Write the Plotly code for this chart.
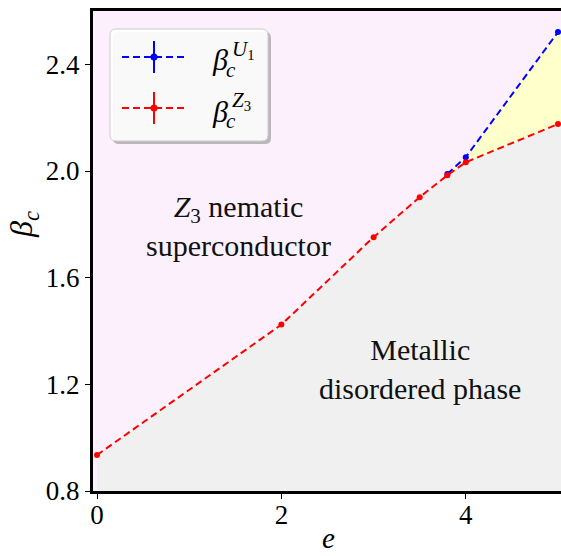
import plotly.graph_objects as go

# Critical inverse temperatures versus coupling e
e_z3 = [0.0, 2.0, 3.0, 3.5, 3.8, 4.0, 5.0]
beta_z3 = [0.935, 1.424, 1.752, 1.902, 1.984, 2.033, 2.176]

e_u1 = [3.8, 4.0, 5.0]
beta_u1 = [1.989, 2.052, 2.521]

x_ticks = [0, 2, 4]
y_ticks = [0.8, 1.2, 1.6, 2.0, 2.4]

PINK = "#fcf0fc"
GRAY = "#f0f0f0"
YELLOW = "#ffffcc"
RED = "#ff0000"
BLUE = "#0000ff"
FONT = "Liberation Serif"

W, H = 561, 556
ML, MR, MT, MB = 93, 0, 11, 65
PW, PH = W - ML - MR, H - MT - MB

# axis limits: x=0 sits 4 px right of the frame, x=5 about 3 px left of the edge
PX_PER_E = (558 - 97) / 5.0
X_MIN = -(97 - ML) / PX_PER_E
X_MAX = 5.0 + (W - MR - 558) / PX_PER_E


def fx(x):
    """figure pixel column -> paper x"""
    return (x - ML) / PW


def fy(y):
    """figure pixel row -> paper y"""
    return (H - MB - y) / PH


fig = go.Figure()

# region fills carried flat out to the right frame
fill_x = e_z3 + [X_MAX]
fill_y = beta_z3 + [beta_z3[-1]]
fig.add_trace(go.Scatter(x=fill_x, y=fill_y, mode="lines", fill="tozeroy",
                         fillcolor=GRAY, line=dict(width=0), hoverinfo="skip",
                         showlegend=False))

lower = [b for e, b in zip(e_z3, beta_z3) if e in e_u1]
fig.add_trace(go.Scatter(x=e_u1 + [X_MAX], y=lower + [lower[-1]], mode="lines",
                         line=dict(width=0), hoverinfo="skip", showlegend=False))
fig.add_trace(go.Scatter(x=e_u1 + [X_MAX], y=beta_u1 + [beta_u1[-1]], mode="lines",
                         fill="tonexty", fillcolor=YELLOW, line=dict(width=0),
                         hoverinfo="skip", showlegend=False))

# transition lines
fig.add_trace(go.Scatter(x=e_u1, y=beta_u1, mode="lines+markers",
                         line=dict(color=BLUE, width=2, dash="7px,4px"),
                         marker=dict(color=BLUE, size=6), cliponaxis=False,
                         showlegend=False))
fig.add_trace(go.Scatter(x=e_z3, y=beta_z3, mode="lines+markers",
                         line=dict(color=RED, width=2, dash="7px,4px"),
                         marker=dict(color=RED, size=6), cliponaxis=False,
                         showlegend=False))

shapes = []
annotations = []


def rounded(x0, y0, x1, y1, r=6):
    ax0, ax1 = fx(x0), fx(x1)
    ay0, ay1 = fy(y0), fy(y1)
    rx, ry = r / PW, r / PH
    return (f"M {ax0+rx},{ay0} L {ax1-rx},{ay0} Q {ax1},{ay0} {ax1},{ay0-ry} "
            f"L {ax1},{ay1+ry} Q {ax1},{ay1} {ax1-rx},{ay1} "
            f"L {ax0+rx},{ay1} Q {ax0},{ay1} {ax0},{ay1+ry} "
            f"L {ax0},{ay0-ry} Q {ax0},{ay0} {ax0+rx},{ay0} Z")


# legend frame with a soft shadow
shapes.append(dict(type="path", xref="paper", yref="paper",
                   path=rounded(113, 32, 271, 144), fillcolor="rgba(0,0,0,0.25)",
                   line=dict(width=0), layer="above"))
shapes.append(dict(type="path", xref="paper", yref="paper",
                   path=rounded(110, 29, 268, 141), fillcolor="rgba(255,255,255,0.92)",
                   line=dict(color="#cccccc", width=1), layer="above"))

legend_rows = [
    (57, BLUE, "<i>U</i><sub>1</sub>"),
    (108, RED, "<i>Z</i><sub>3</sub>"),
]
for yy, col, sup in legend_rows:
    shapes.append(dict(type="line", xref="paper", yref="paper",
                       x0=fx(122), x1=fx(188), y0=fy(yy), y1=fy(yy),
                       line=dict(color=col, width=2, dash="7px,4px"), layer="above"))
    shapes.append(dict(type="line", xref="paper", yref="paper",
                       x0=fx(154), x1=fx(154), y0=fy(yy - 16), y1=fy(yy + 16),
                       line=dict(color=col, width=2), layer="above"))
    shapes.append(dict(type="circle", xref="paper", yref="paper",
                       x0=fx(150.5), x1=fx(157.5), y0=fy(yy - 3.5), y1=fy(yy + 3.5),
                       fillcolor=col, line=dict(color=col, width=0), layer="above"))
    annotations.append(dict(xref="paper", yref="paper", x=fx(210), y=fy(yy + 3),
                            xanchor="left", yanchor="middle", showarrow=False,
                            text="<i>β</i>", font=dict(family=FONT, size=30, color="black")))
    annotations.append(dict(xref="paper", yref="paper", x=fx(224), y=fy(yy + 13),
                            xanchor="left", yanchor="middle", showarrow=False,
                            text="<i>c</i>", font=dict(family=FONT, size=21, color="black")))
    annotations.append(dict(xref="paper", yref="paper", x=fx(230), y=fy(yy - 7),
                            xanchor="left", yanchor="middle", showarrow=False,
                            text=sup, font=dict(family=FONT, size=21, color="black")))

# phase labels
annotations.append(dict(xref="paper", yref="paper", x=fx(238), y=fy(226),
                        xanchor="center", yanchor="middle", showarrow=False,
                        text="<i>Z</i><sub>3</sub> nematic<br>superconductor",
                        font=dict(family=FONT, size=30, color="#111111")))
annotations.append(dict(xref="paper", yref="paper", x=fx(420), y=fy(369),
                        xanchor="center", yanchor="middle", showarrow=False,
                        text="Metallic<br>disordered phase",
                        font=dict(family=FONT, size=30, color="#111111")))

# axis titles
annotations.append(dict(xref="paper", yref="paper", x=fx(328), y=fy(556),
                        xanchor="center", yanchor="bottom", showarrow=False,
                        text="<i>e</i>", font=dict(family=FONT, size=29, color="black")))
annotations.append(dict(xref="paper", yref="paper", x=fx(23), y=fy(225),
                        xanchor="center", yanchor="middle", showarrow=False,
                        textangle=-90,
                        text="<i>β</i><sub><i>c</i></sub>",
                        font=dict(family=FONT, size=32, color="black")))

axis_common = dict(showgrid=False, zeroline=False, showline=True, linecolor="black",
                   linewidth=3, ticks="outside", ticklen=5, tickwidth=1.2,
                   tickcolor="black", tickfont=dict(family=FONT, size=27, color="black"))

fig.update_layout(
    width=W, height=H,
    margin=dict(l=ML, r=MR, t=MT, b=MB, pad=0),
    paper_bgcolor="white", plot_bgcolor=PINK,
    showlegend=False,
    font=dict(family=FONT),
    xaxis=dict(range=[X_MIN, X_MAX], tickvals=x_ticks, ticklabelstandoff=-7,
               ticktext=[str(v) for v in x_ticks], mirror=True, **axis_common),
    yaxis=dict(range=[0.8, 2.6], tickvals=y_ticks,
               ticktext=[f"{v:.1f}" for v in y_ticks], mirror=False, **axis_common),
    shapes=shapes,
    annotations=annotations,
)

fig.write_html("out.html")
